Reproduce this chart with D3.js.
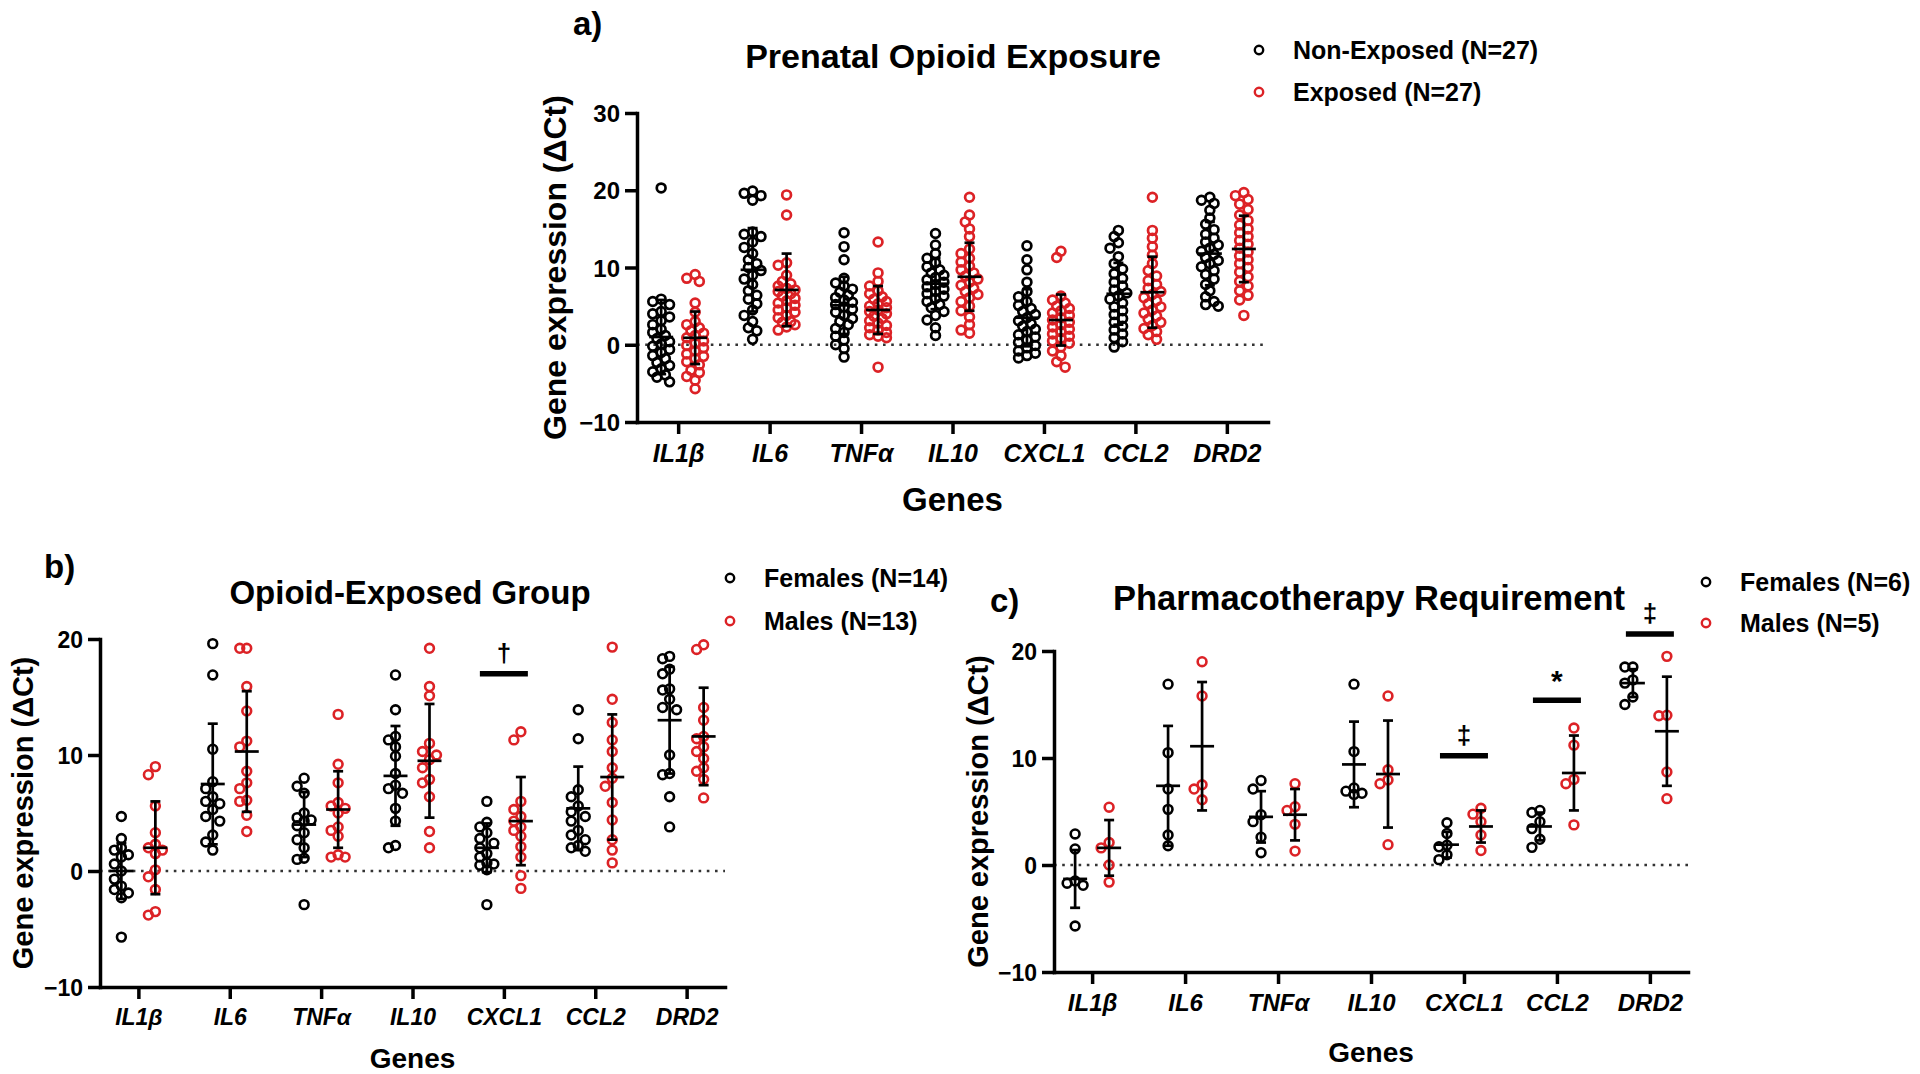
<!DOCTYPE html>
<html><head><meta charset="utf-8">
<script src="https://cdn.jsdelivr.net/npm/d3@7"></script>
<style>
body{margin:0;background:#fff}
svg{display:block}
text{font-family:"Liberation Sans",Arial,Helvetica,sans-serif;font-weight:bold;fill:#000}
</style>
</head><body>
<svg id="chart" width="1920" height="1074"></svg>
<script>
// ---------------- DATA ----------------
const genes = ["IL1β","IL6","TNFα","IL10","CXCL1","CCL2","DRD2"];
const yTicksA = [-10,0,10,20,30];
const yTicksBC = [-10,0,10,20];

// Panel a: Prenatal Opioid Exposure
const aNonExposed = [
 [20.3,5.9,5.6,5.2,4.3,4.0,3.6,3.1,2.6,2.0,1.6,1.2,0.8,0.4,0.1,-0.2,-0.6,-1.0,-1.4,-1.8,-2.3,-2.7,-3.1,-3.5,-3.9,-4.2,-4.8],
 [19.9,19.6,19.3,18.7,14.6,14.3,14.0,13.3,12.6,11.8,11.0,10.5,10.0,9.6,9.0,8.5,7.8,7.0,6.4,5.9,5.3,4.5,3.8,3.0,2.2,1.8,0.7],
 [14.5,12.7,11.0,8.6,8.0,7.6,7.2,6.8,6.4,6.1,5.8,5.5,5.2,4.9,4.6,4.2,3.8,3.4,3.0,2.6,2.1,1.6,1.1,0.6,0.0,-0.5,-1.6],
 [14.4,12.9,11.8,11.2,10.6,10.1,9.7,9.3,9.0,8.7,8.4,8.1,7.8,7.5,7.2,6.9,6.6,6.3,6.0,5.6,5.2,4.8,4.3,3.8,3.2,2.2,1.2],
 [12.8,11.0,9.7,8.1,6.9,6.2,5.6,5.1,4.7,4.3,3.9,3.5,3.1,2.7,2.4,2.0,1.7,1.3,1.0,0.6,0.3,-0.1,-0.4,-0.8,-1.1,-1.4,-1.7],
 [14.8,14.0,13.2,12.5,11.4,10.5,9.8,9.2,8.6,8.1,7.6,7.1,6.7,6.3,5.9,5.4,4.9,4.4,3.9,3.4,2.9,2.4,1.9,1.4,0.9,0.4,-0.3],
 [19.1,18.7,18.3,17.4,16.4,15.6,14.9,14.3,13.8,13.3,12.9,12.5,12.1,11.7,11.3,10.9,10.5,10.1,9.6,9.1,8.5,7.8,7.0,6.2,5.6,5.2,5.0]
];
const aExposed = [
 [9.1,8.6,8.2,5.4,4.2,3.0,2.6,2.2,1.8,1.5,1.2,0.9,0.5,0.2,-0.1,-0.4,-0.8,-1.2,-1.5,-1.8,-2.2,-2.6,-3.3,-3.6,-4.1,-4.6,-5.7],
 [19.4,16.8,10.6,10.3,9.0,8.2,7.9,7.6,7.3,7.1,6.9,6.6,6.3,6.0,5.7,5.4,5.1,4.8,4.5,4.2,3.8,3.5,3.0,2.9,2.6,2.3,1.9],
 [13.3,9.3,8.2,7.6,7.0,6.6,6.2,5.9,5.6,5.3,5.0,4.8,4.5,4.3,4.0,3.7,3.4,3.1,2.8,2.5,2.2,1.9,1.6,1.3,1.1,0.9,-2.9],
 [19.1,16.8,15.9,15.0,14.0,12.4,11.8,11.2,10.7,10.2,9.7,9.3,8.9,8.5,8.1,7.7,7.3,6.9,6.5,6.1,5.6,5.0,4.4,3.6,2.6,1.9,1.5],
 [12.1,11.3,6.3,5.8,5.4,5.0,4.7,4.4,4.1,3.8,3.5,3.2,2.9,2.6,2.3,2.0,1.7,1.4,1.1,0.8,0.5,0.2,-0.3,-0.8,-1.4,-2.2,-2.9],
 [19.1,14.8,13.8,12.7,11.6,10.5,9.6,8.9,8.3,7.8,7.3,6.9,6.5,6.1,5.7,5.3,4.9,4.5,4.1,3.7,3.3,2.9,2.5,2.1,1.7,1.3,0.7],
 [19.7,19.3,18.8,18.2,17.5,16.8,16.1,15.5,15.0,14.5,14.0,13.5,13.0,12.5,12.0,11.5,11.0,10.5,10.0,9.4,8.8,8.2,7.6,7.0,6.4,5.8,3.8]
];
const aNonExposedMean = [1.0,9.7,5.1,7.9,3.5,6.6,11.8];
const aNonExposedSD   = [4.8,5.4,3.7,3.3,3.7,4.0,4.1];
const aExposedMean    = [0.9,7.1,4.5,8.8,3.2,6.8,12.4];
const aExposedSD      = [3.4,4.7,3.1,4.4,3.3,4.6,4.3];

// Panel b: Opioid-Exposed Group
const bFemales = [
 [4.7,2.8,2.0,1.8,1.4,1.2,0.6,0.0,-0.7,-1.3,-1.6,-1.9,-2.3,-5.7],
 [19.6,16.9,10.5,7.7,7.1,6.4,6.0,5.8,5.3,4.7,4.3,3.1,2.5,1.8],
 [8.0,7.3,6.7,5.0,4.6,4.4,4.3,3.9,3.3,2.7,2.0,1.1,1.0,-2.9],
 [16.9,13.9,11.6,11.3,10.7,9.9,8.4,7.4,7.1,6.7,5.4,4.3,2.2,2.0],
 [6.0,4.2,3.8,3.3,2.8,2.4,2.0,1.5,1.2,0.7,0.6,0.5,0.1,-2.9],
 [13.9,11.4,7.0,6.4,5.6,5.1,4.7,4.3,3.5,3.1,2.7,2.2,2.0,1.7],
 [18.5,18.3,17.4,17.0,15.7,15.6,14.8,14.1,13.9,10.0,8.4,8.3,6.4,3.8]
];
const bMales = [
 [9.0,8.3,5.6,3.3,2.3,2.0,1.8,1.5,0.1,-0.5,-1.6,-3.5,-3.8],
 [19.2,19.2,15.9,13.8,11.2,10.7,8.6,7.6,7.1,6.1,6.0,4.8,3.4],
 [13.5,9.2,7.6,5.9,5.6,5.4,5.0,3.8,3.5,3.0,1.4,1.2,1.2],
 [19.2,15.9,15.1,11.0,10.3,10.0,9.6,8.9,7.9,7.6,6.4,3.4,2.0],
 [12.0,11.3,6.0,5.3,4.7,4.3,3.8,3.5,3.0,2.1,1.2,-0.4,-1.5],
 [19.3,14.8,12.8,11.3,10.3,8.9,8.0,7.3,5.9,4.4,2.7,1.8,0.7],
 [19.5,19.1,14.1,13.0,11.6,11.4,10.7,10.3,9.7,8.9,8.6,7.9,6.3]
];
const bFemalesMean = [0.0,7.5,4.0,8.2,2.0,5.4,13.0];
const bFemalesSD   = [2.4,5.2,2.8,4.3,2.1,3.6,4.6];
const bMalesMean   = [2.0,10.3,5.3,9.5,4.3,8.1,11.6];
const bMalesSD     = [4.0,5.2,3.3,4.9,3.8,5.4,4.2];
const bSignif = [{gene:"CXCL1", mark:"†", y:17.0}];

// Panel c: Pharmacotherapy Requirement
const cFemales = [
 [2.9,1.5,-1.5,-1.7,-1.9,-5.7],
 [16.9,10.5,7.1,5.2,2.8,1.8],
 [7.9,7.1,4.7,4.05,2.6,1.15],
 [16.9,10.6,7.2,6.9,6.7,6.6],
 [3.95,2.95,1.85,1.7,0.95,0.5],
 [5.1,4.9,4.05,3.4,2.4,1.65],
 [18.5,18.5,17.3,17.0,15.7,15.0]
];
const cMales = [
 [5.4,2.1,1.6,0.0,-1.6],
 [19.0,15.8,7.5,7.1,6.1],
 [7.6,5.45,5.1,3.8,1.3],
 [15.8,8.9,7.95,7.6,1.9],
 [5.3,4.75,4.05,2.8,1.35],
 [12.8,11.2,8.0,7.6,3.75],
 [19.5,14.0,13.95,8.7,6.2]
];
const cFemalesMean = [-1.3,7.4,4.5,9.4,1.9,3.6,17.0];
const cFemalesSD   = [2.7,5.6,2.4,4.0,1.2,1.3,1.3];
const cMalesMean   = [1.6,11.1,4.7,8.5,3.6,8.6,12.5];
const cMalesSD     = [2.6,6.0,2.4,5.0,1.5,3.5,5.1];
const cSignif = [{gene:"CXCL1", mark:"‡", y:10.2},{gene:"CCL2", mark:"*", y:15.4},{gene:"DRD2", mark:"‡", y:21.6}];

// ---------------- DRAWING ----------------
const RED = "#dc2226";
const svg = d3.select("#chart");

function dodge(ys, step, minD, kmax){
  const order = ys.map((y,i)=>({y,i})).sort((a,b)=>a.y-b.y);
  const cands=[0];
  for(let k=1;k<=kmax;k++){cands.push(-k*step, k*step);}
  const placed=[];
  order.forEach(o=>{
    let best=0,bestScore=-1;
    for(const c of cands){
      let md=Infinity;
      for(const q of placed){const d=Math.hypot(q.dx-c,q.y-o.y); if(d<md)md=d;}
      if(md>=minD){best=c;bestScore=Infinity;break;}
      if(md>bestScore){bestScore=md;best=c;}
    }
    placed.push({y:o.y,dx:best});
  });
  return placed;
}

function panel(p){
  const g = svg.append("g");
  const x = d3.scalePoint().domain(genes).range([p.x0,p.x1]).padding(p.pad);
  const y = d3.scaleLinear().domain(p.domain).range([p.yBot,p.yTop]);

  // zero dotted line
  g.append("line").attr("x1",p.x0).attr("x2",p.x1).attr("y1",y(0)).attr("y2",y(0))
    .attr("stroke","#333").attr("stroke-width",2.6).attr("stroke-dasharray","2.6,5.6");

  // y axis
  const ya = g.append("g").attr("transform",`translate(${p.x0},0)`)
    .call(d3.axisLeft(y).tickValues(p.ticks).tickSize(12).tickSizeOuter(0).tickPadding(5).tickFormat(d3.format("d")));
  // x axis
  const xa = g.append("g").attr("transform",`translate(0,${p.yBot})`)
    .call(d3.axisBottom(x).tickSize(12).tickSizeOuter(0).tickPadding(10));
  [ya,xa].forEach(a=>{
    a.attr("font-family",null).attr("font-size",null);
    a.select(".domain").attr("stroke","#000").attr("stroke-width",3.5).attr("stroke-linecap","square");
    a.selectAll(".tick line").attr("stroke","#000").attr("stroke-width",3.5);
  });
  ya.selectAll(".tick text").style("font-size",p.yTickFont+"px").attr("dy","0.36em");
  xa.selectAll(".tick text").style("font-size",p.xTickFont+"px").style("font-style","italic");

  // points
  p.groups.forEach(gr=>{
    genes.forEach((gene,i)=>{
      const cx = x(gene)+gr.off;
      const pts = dodge(gr.data[i].map(v=>y(v)), p.step, p.minD, p.kmax);
      g.append("g").selectAll("circle").data(pts).enter().append("circle")
        .attr("cx",d=>cx+d.dx).attr("cy",d=>d.y).attr("r",p.r)
        .attr("fill","none").attr("stroke",gr.color).attr("stroke-width",p.sw);
    });
  });
  // mean +/- SD
  p.groups.forEach(gr=>{
    genes.forEach((gene,i)=>{
      const cx = x(gene)+gr.off;
      const m=gr.mean[i], s=gr.sd[i];
      const eg = g.append("g").attr("stroke","#000").attr("stroke-width",2.7);
      eg.append("line").attr("x1",cx).attr("x2",cx).attr("y1",y(m+s)).attr("y2",y(m-s));
      eg.append("line").attr("x1",cx-p.cap).attr("x2",cx+p.cap).attr("y1",y(m+s)).attr("y2",y(m+s));
      eg.append("line").attr("x1",cx-p.cap).attr("x2",cx+p.cap).attr("y1",y(m-s)).attr("y2",y(m-s));
      eg.append("line").attr("x1",cx-p.meanW).attr("x2",cx+p.meanW).attr("y1",y(m)).attr("y2",y(m));
    });
  });
  // significance marks
  (p.signif||[]).forEach(sg=>{
    const cx = x(sg.gene);
    g.append("line").attr("x1",cx-24).attr("x2",cx+24).attr("y1",y(sg.y)).attr("y2",y(sg.y))
      .attr("stroke","#000").attr("stroke-width",5.5);
    g.append("text").attr("x",cx).attr("y",y(sg.y)-(sg.mark==="*"?9:12))
      .attr("text-anchor","middle").style("font-size",(sg.mark==="*"?30:26)+"px").text(sg.mark);
  });

  // axis titles
  g.append("text").attr("transform",`translate(${p.yLabX},${(p.yTop+p.yBot)/2}) rotate(-90)`)
    .attr("text-anchor","middle").style("font-size",p.yLabFont+"px").text("Gene expression (ΔCt)");
  g.append("text").attr("x",(p.x0+p.x1)/2).attr("y",p.xLabY).attr("text-anchor","middle")
    .style("font-size",p.xLabFont+"px").text("Genes");
  // title & panel letter
  g.append("text").attr("x",p.titleX).attr("y",p.titleY).attr("text-anchor","middle")
    .style("font-size",p.titleFont+"px").text(p.title);
  g.append("text").attr("x",p.letterX).attr("y",p.letterY).style("font-size","33px").text(p.letter);
  // legend
  p.legend.forEach((lg,k)=>{
    const ly = p.legY + k*p.legDy;
    g.append("circle").attr("cx",p.legX).attr("cy",ly).attr("r",4.2)
      .attr("fill","none").attr("stroke",lg.color).attr("stroke-width",2.4);
    g.append("text").attr("x",p.legX+34).attr("y",ly+8.8).style("font-size","25px").text(lg.label);
  });
}

panel({
  x0:637, x1:1268, yTop:113, yBot:422, domain:[-10,30], ticks:yTicksA, pad:0.45,
  yTickFont:24, xTickFont:25, r:4.4, sw:2.7, step:4.2, minD:7, kmax:2, cap:5, meanW:12,
  groups:[
    {data:aNonExposed, mean:aNonExposedMean, sd:aNonExposedSD, color:"#000", off:-17},
    {data:aExposed, mean:aExposedMean, sd:aExposedSD, color:RED, off:17}
  ],
  yLabX:566, yLabFont:32, xLabY:511, xLabFont:33,
  title:"Prenatal Opioid Exposure", titleX:953, titleY:68, titleFont:34,
  letter:"a)", letterX:573, letterY:35,
  legend:[{label:"Non-Exposed (N=27)",color:"#000"},{label:"Exposed (N=27)",color:RED}],
  legX:1259, legY:50, legDy:42
});

panel({
  x0:100, x1:725, yTop:639, yBot:987, domain:[-10,20], ticks:yTicksBC, pad:0.42,
  yTickFont:23, xTickFont:23, r:4.4, sw:2.6, step:7, minD:8.5, kmax:1, cap:5, meanW:12,
  groups:[
    {data:bFemales, mean:bFemalesMean, sd:bFemalesSD, color:"#000", off:-17},
    {data:bMales, mean:bMalesMean, sd:bMalesSD, color:RED, off:17}
  ],
  signif:bSignif,
  yLabX:33, yLabFont:29, xLabY:1068, xLabFont:28,
  title:"Opioid-Exposed Group", titleX:410, titleY:604, titleFont:33,
  letter:"b)", letterX:44, letterY:578,
  legend:[{label:"Females (N=14)",color:"#000"},{label:"Males (N=13)",color:RED}],
  legX:730, legY:578, legDy:43
});

panel({
  x0:1054, x1:1688, yTop:651, yBot:972, domain:[-10,20], ticks:yTicksBC, pad:0.41,
  yTickFont:23, xTickFont:24, r:4.4, sw:2.6, step:8, minD:9, kmax:1, cap:5, meanW:12,
  groups:[
    {data:cFemales, mean:cFemalesMean, sd:cFemalesSD, color:"#000", off:-17},
    {data:cMales, mean:cMalesMean, sd:cMalesSD, color:RED, off:17}
  ],
  signif:cSignif,
  yLabX:988, yLabFont:29, xLabY:1062, xLabFont:28,
  title:"Pharmacotherapy Requirement", titleX:1369, titleY:610, titleFont:34.5,
  letter:"c)", letterX:990, letterY:612,
  legend:[{label:"Females (N=6)",color:"#000"},{label:"Males (N=5)",color:RED}],
  legX:1706, legY:582, legDy:41
});
</script>
</body></html>
